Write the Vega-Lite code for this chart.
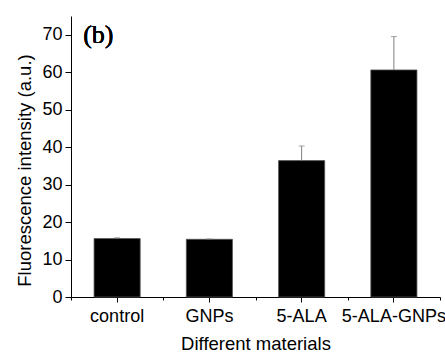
{
  "$schema": "https://vega.github.io/schema/vega-lite/v6.json",
  "width": 369,
  "height": 281,
  "autosize": "none",
  "padding": {"left": 71, "top": 16, "right": 5, "bottom": 56},
  "background": "white",
  "config": {
    "view": {"stroke": null},
    "axis": {
      "labelFont": "Liberation Sans",
      "titleFont": "Liberation Sans",
      "labelColor": "black",
      "titleColor": "black",
      "domainColor": "black",
      "tickColor": "black",
      "grid": false,
      "titleFontWeight": "normal"
    }
  },
  "data": {
    "values": [
      {"material": "control", "mean": 15.6, "upper": 15.8},
      {"material": "GNPs", "mean": 15.4, "upper": 15.5},
      {"material": "5-ALA", "mean": 36.4, "upper": 40.3},
      {"material": "5-ALA-GNPs", "mean": 60.6, "upper": 69.5}
    ]
  },
  "resolve": {"axis": {"x": "independent"}},
  "layer": [
    {
      "mark": {"type": "bar", "color": "black", "stroke": "#555555", "strokeWidth": 0.8, "width": {"band": 0.5}},
      "encoding": {
        "x": {
          "field": "material", "type": "nominal", "sort": null,
          "scale": {"paddingInner": 0, "paddingOuter": 0},
          "axis": {
            "orient": "bottom", "labelAngle": 0, "labelFontSize": 18, "labelPadding": 5,
            "tickSize": 5, "title": "Different materials", "titleFontSize": 18.5, "titlePadding": 9
          }
        },
        "y": {
          "field": "mean", "type": "quantitative",
          "scale": {"domain": [0, 75], "nice": false},
          "axis": {
            "values": [0, 5, 10, 15, 20, 25, 30, 35, 40, 45, 50, 55, 60, 65, 70],
            "labelExpr": "datum.value % 10 === 0 ? datum.label : ''",
            "tickSize": {"condition": {"test": "datum.value % 10 === 0", "value": 6}, "value": 3},
            "labelFontSize": 18, "labelPadding": 3,
            "title": "Fluorescence intensity (a.u.)", "titleFontSize": 18.5, "titlePadding": 7,
            "titleY": 154
          }
        }
      }
    },
    {
      "mark": {"type": "rule", "color": "#808080", "strokeWidth": 1},
      "encoding": {
        "x": {
          "field": "material", "type": "nominal", "sort": null,
          "axis": {"orient": "bottom", "tickBand": "extent", "labels": false, "domain": false, "tickSize": 3, "title": null}
        },
        "y": {"field": "mean", "type": "quantitative"},
        "y2": {"field": "upper"}
      }
    },
    {
      "mark": {"type": "tick", "color": "#808080", "size": 6, "thickness": 1, "orient": "horizontal"},
      "encoding": {
        "x": {"field": "material", "type": "nominal", "sort": null, "axis": null},
        "y": {"field": "upper", "type": "quantitative"}
      }
    },
    {
      "mark": {"type": "text", "font": "Times New Roman, Liberation Serif, serif", "fontSize": 26, "fontWeight": 400, "align": "left", "baseline": "middle", "dx": -34, "color": "black"},
      "encoding": {
        "x": {"datum": "control", "type": "nominal", "axis": null},
        "y": {"datum": 70, "type": "quantitative"},
        "text": {"value": "(b)"}
      }
    }
  ]
}
